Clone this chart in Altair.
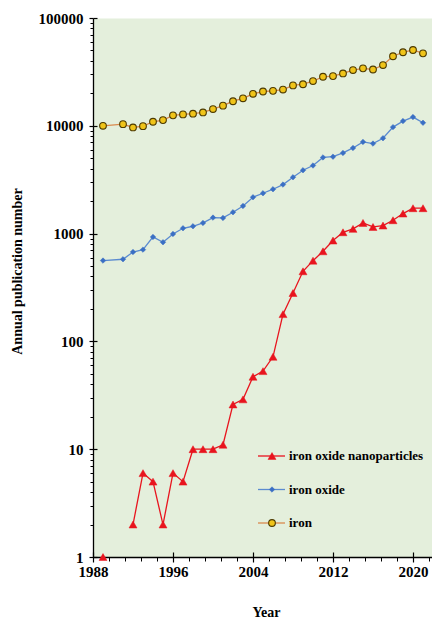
import altair as alt
import pandas as pd

# Annual publication counts (log scale); 1990 has no entry, 1991 has no nanoparticle papers
years = [1989] + list(range(1991, 2022))

iron = [10000, 10360, 9650, 9930, 10900, 11300, 12500, 12760, 12950, 13300,
        14300, 15370, 16900, 18000, 19800, 20800, 21100, 21700, 23700, 24300,
        26000, 28500, 28900, 30600, 32900, 34100, 33300, 36600, 44200, 48100,
        50500, 47000]

iron_oxide = [562, 578, 675, 710, 931, 831, 993, 1121, 1170, 1256,
              1407, 1398, 1578, 1806, 2175, 2368, 2580, 2850, 3330, 3870,
              4280, 5090, 5170, 5600, 6230, 7090, 6840, 7670, 9720, 11060,
              12050, 10670]

nanoparticles = [1, None, 2, 6, 5, 2, 6, 5, 10, 10,
                 10, 11, 26, 29, 47, 53, 72, 179, 281, 447,
                 561, 685, 862, 1029, 1106, 1256, 1153, 1187, 1330, 1534,
                 1720, 1720]

names = ["iron oxide nanoparticles", "iron oxide", "iron"]
line_colors = ["#e8141e", "#5b8bd0", "#d98a4e"]

y_major = [1, 10, 100, 1000, 10000, 100000]
y_minor = [m * 10 ** e for e in range(5) for m in range(2, 10)]
x_major = [1988, 1996, 2004, 2012, 2020]
x_minor = [round(1988 + 1.6 * k, 1) for k in range(1, 22) if k % 5]

rows = []
for name, vals in zip(names, [nanoparticles, iron_oxide, iron]):
    for yr, v in zip(years, vals):
        rows.append({"year": yr, "count": v, "series": name})
df = pd.DataFrame(rows)
legend_df = pd.DataFrame({"series": names})

FONT = "Liberation Serif"
xs = alt.Scale(domain=[1988, 2021.9], nice=False, zero=False)
ys = alt.Scale(type="log", domain=[1, 100000], nice=False)
color_scale = alt.Scale(domain=names, range=line_colors)
legend_y = alt.Scale(type="point", domain=names, range=[438, 505], padding=0)

# main axes: labels, domain line, outward major ticks
x_axis_main = alt.Axis(orient="bottom", values=x_major, format="d", title="Year",
                       tickSize=5, tickColor="black", tickWidth=1.2,
                       domainColor="black", domainWidth=1.3, grid=False,
                       labelFont=FONT, labelFontWeight="bold", labelFontSize=15,
                       labelColor="black", labelPadding=2, labelFlush=False,
                       labelOverlap=False,
                       titleFont=FONT, titleFontWeight="bold", titleFontSize=14,
                       titleColor="black", titleX=173, titleY=55,
                       titleBaseline="middle")
y_axis_main = alt.Axis(orient="left", values=y_major, format="d",
                       title="Annual publication number",
                       tickSize=4, tickColor="black", tickWidth=1.2,
                       domainColor="black", domainWidth=1.3, grid=False,
                       labelFont=FONT, labelFontWeight="bold", labelFontSize=15,
                       labelColor="black", labelPadding=6, labelOverlap=False,
                       titleFont=FONT, titleFontWeight="bold", titleFontSize=14,
                       titleColor="black", titleX=-76, titleY=253,
                       titleAngle=-90, titleBaseline="middle", titleAlign="center")

# inward half of the major ticks
x_axis_in = alt.Axis(orient="bottom", values=x_major, offset=-5, tickSize=5,
                     tickColor="black", tickWidth=1.2, labels=False,
                     domain=False, grid=False, title=None)
y_axis_in = alt.Axis(orient="left", values=y_major, offset=-4, tickSize=4,
                     tickColor="black", tickWidth=1.2, labels=False,
                     domain=False, grid=False, title=None)

# minor ticks
x_axis_minor = alt.Axis(orient="bottom", values=x_minor, tickSize=4,
                        tickColor="black", tickWidth=1, labels=False,
                        domain=False, grid=False, title=None)
y_axis_minor = alt.Axis(orient="left", values=y_minor, tickSize=3,
                        tickColor="black", tickWidth=1, labels=False,
                        domain=False, grid=False, title=None)

base = alt.Chart(df)

lines = base.mark_line(strokeWidth=1.3, invalid="break-paths-show-domains").encode(
    x=alt.X("year:Q", scale=xs, axis=x_axis_main),
    y=alt.Y("count:Q", scale=ys, axis=y_axis_main),
    color=alt.Color("series:N", scale=color_scale, legend=None),
    detail="series:N",
)


def series_points(name, xaxis, yaxis, **style):
    return base.transform_filter(alt.datum.series == name).transform_filter(
        "isValid(datum.count)"
    ).mark_point(filled=True, opacity=1, **style).encode(
        x=alt.X("year:Q", scale=xs, axis=xaxis),
        y=alt.Y("count:Q", scale=ys, axis=yaxis),
    )


marker_styles = {
    "iron": dict(shape="circle", size=45, fill="#f0c419", stroke="#4d3b00",
                 strokeWidth=1.1),
    "iron oxide": dict(shape="diamond", size=30, fill="#3a6fc4",
                       stroke="#3a6fc4", strokeWidth=0.5),
    "iron oxide nanoparticles": dict(shape="triangle-up", size=64,
                                     fill="#e8141e", stroke="#e8141e",
                                     strokeWidth=0.5),
}

pts_iron = series_points("iron", x_axis_in, y_axis_in, **marker_styles["iron"])
pts_oxide = series_points("iron oxide", x_axis_minor, y_axis_minor,
                          **marker_styles["iron oxide"])
pts_nano = series_points("iron oxide nanoparticles", None, None,
                         **marker_styles["iron oxide nanoparticles"])

# legend inside the plot area
leg = alt.Chart(legend_df)
leg_lines = leg.mark_rule(strokeWidth=1.3).encode(
    x=alt.value(165), x2=alt.value(192),
    y=alt.Y("series:N", scale=legend_y, axis=None),
    color=alt.Color("series:N", scale=color_scale, legend=None),
)
leg_marks = [
    leg.transform_filter(alt.datum.series == n).mark_point(
        filled=True, opacity=1, **marker_styles[n]
    ).encode(x=alt.value(179), y=alt.Y("series:N", scale=legend_y, axis=None))
    for n in names
]
leg_text = leg.mark_text(align="left", baseline="middle", font=FONT,
                         fontWeight="bold", fontSize=13, color="black").encode(
    x=alt.value(196),
    y=alt.Y("series:N", scale=legend_y, axis=None),
    text="series:N",
)

chart = alt.layer(
    lines, pts_oxide, pts_nano, pts_iron, leg_lines, *leg_marks, leg_text
).resolve_scale(y="independent").resolve_axis(
    x="independent", y="independent"
).properties(
    width=339, height=539,
    autosize=alt.AutoSizeParams(type="none"),
    padding={"left": 93, "top": 18, "right": 0, "bottom": 64},
    background="white",
).configure_view(fill="#e4efdc", stroke="transparent")

chart.save("out.html", embed_options={"renderer": "svg", "actions": False})
